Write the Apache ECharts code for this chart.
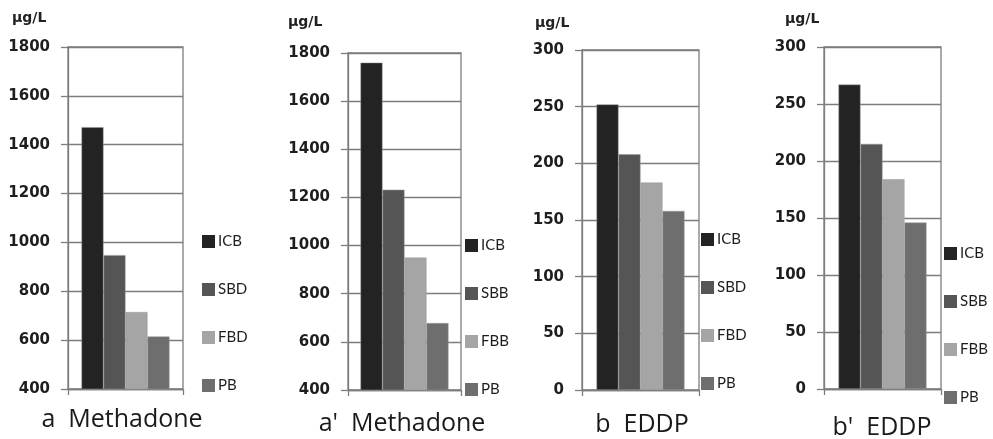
<!DOCTYPE html>
<html>
<head>
<meta charset="utf-8">
<script src="https://cdn.jsdelivr.net/npm/echarts@6/dist/echarts.min.js"></script>
<style>
  html, body { margin: 0; padding: 0; background: #fff; }
  #chart { width: 993px; height: 439px; }
</style>
</head>
<body>
<div id="chart"></div>
<script>
// values (µg/L)
const namesD = ["ICB", "SBD", "FBD", "PB"];
const namesB = ["ICB", "SBB", "FBB", "PB"];
const methadoneA = [1472, 948, 715, 615];
const methadoneA2 = [1760, 1232, 950, 678];
const eddpB = [252, 208, 183, 158];
const eddpB2 = [267, 215, 184, 146];
const captions = ["a  Methadone", "a'  Methadone", "b  EDDP", "b'  EDDP"];
const unitLabel = "µg/L";

const colors = ["#232323", "#555555", "#a5a5a5", "#6e6e6e"];
const lineGray = "#7d7d7d";

// pixel layout of the four small panels
const panels = [
  { names: namesD, data: methadoneA, min: 400, max: 1800, interval: 200,
    grid: { left: 68, top: 47, width: 115, height: 342 },
    legend: { left: 202, top: 234 }, cap: [122, 420], unit: [12, 18] },
  { names: namesB, data: methadoneA2, min: 400, max: 1800, interval: 200,
    grid: { left: 348, top: 53, width: 113, height: 337 },
    legend: { left: 465, top: 238 }, cap: [402, 424], unit: [288, 22] },
  { names: namesD, data: eddpB, min: 0, max: 300, interval: 50,
    grid: { left: 582, top: 50, width: 117, height: 340 },
    legend: { left: 701, top: 232 }, cap: [642, 425], unit: [535, 23] },
  { names: namesB, data: eddpB2, min: 0, max: 300, interval: 50,
    grid: { left: 824, top: 47, width: 117, height: 342 },
    legend: { left: 944, top: 246 }, cap: [882, 428], unit: [785, 19] },
];

const grid = [], xAxis = [], yAxis = [], series = [], legend = [], graphic = [];

panels.forEach((p, i) => {
  grid.push({ ...p.grid, show: true, borderColor: lineGray, borderWidth: 1.3 });
  xAxis.push({
    type: "category",
    gridIndex: i,
    data: [""],
    axisLine: { lineStyle: { color: lineGray, width: 1.3 } },
    axisTick: { show: true, length: 6, lineStyle: { color: lineGray, width: 1.3 } },
    axisLabel: { show: false },
  });
  yAxis.push({
    type: "value",
    gridIndex: i,
    min: p.min,
    max: p.max,
    interval: p.interval,
    axisLine: { show: true, lineStyle: { color: lineGray, width: 1.3 } },
    axisTick: { show: true, length: 7, lineStyle: { color: lineGray, width: 1.3 } },
    splitLine: { show: true, lineStyle: { color: lineGray, width: 1.3 } },
    axisLabel: {
      margin: 18,
      color: "#1e1e1e",
      fontFamily: "DejaVu Sans",
      fontWeight: "bold",
      fontSize: 15,
      formatter: (v) => String(v),
    },
  });
  p.names.forEach((name, k) => {
    series.push({
      name: name,
      type: "bar",
      xAxisIndex: i,
      yAxisIndex: i,
      barWidth: 22,
      barGap: "0%",
      itemStyle: { color: colors[k], borderColor: "#9a9a9a", borderWidth: 0.5 },
      data: [p.data[k]],
    });
  });
  legend.push({
    orient: "vertical",
    left: p.legend.left,
    top: p.legend.top,
    padding: 0,
    itemWidth: 13,
    itemHeight: 13,
    itemGap: 33,
    icon: "rect",
    selectedMode: false,
    itemStyle: { borderWidth: 0 },
    textStyle: { fontFamily: "Lato", fontSize: 15, color: "#1e1e1e", padding: [0, 0, 0, -2] },
    data: p.names,
  });
  graphic.push({
    type: "text",
    x: p.cap[0],
    y: p.cap[1],
    style: {
      text: captions[i],
      textAlign: "center",
      align: "center",
      textVerticalAlign: "middle",
      verticalAlign: "middle",
      fill: "#1a1a1a",
      font: "25px 'Open Sans'",
    },
  });
  graphic.push({
    type: "text",
    x: p.unit[0],
    y: p.unit[1],
    style: {
      text: unitLabel,
      textVerticalAlign: "middle",
      verticalAlign: "middle",
      fill: "#222",
      font: "bold 14px 'DejaVu Sans'",
    },
  });
});

const chart = echarts.init(document.getElementById("chart"));
chart.setOption({
  animation: false,
  backgroundColor: "#fff",
  grid, xAxis, yAxis, series, legend, graphic,
});
</script>
</body>
</html>
